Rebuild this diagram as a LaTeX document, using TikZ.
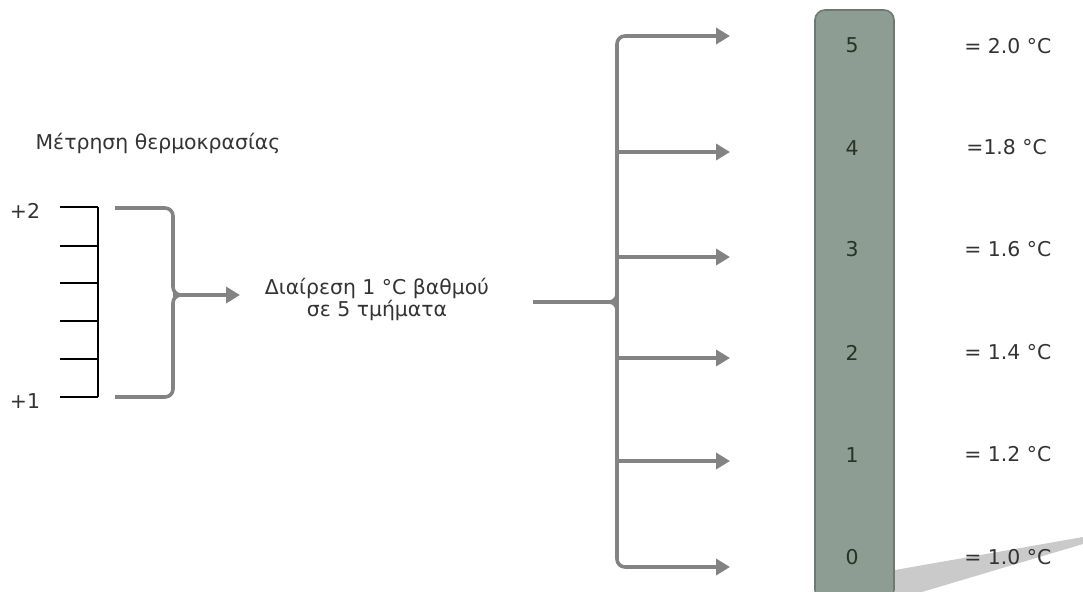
\documentclass[tikz,border=0pt]{standalone}
\usepackage{fontspec}
\setmainfont{DejaVu Sans}
\usetikzlibrary{arrows.meta}
\definecolor{linegray}{HTML}{838383}
\definecolor{barfill}{HTML}{8E9D93}
\definecolor{barline}{HTML}{6C7A71}
\definecolor{txt}{HTML}{333333}
\definecolor{numtxt}{HTML}{263228}
\definecolor{shadowgray}{HTML}{CACACA}
\begin{document}
\begin{tikzpicture}[x=0.5pt,y=-0.5pt,
  font=\fontsize{10.2}{11}\selectfont,
  lbl/.style={text=txt, inner sep=0pt},
  numlbl/.style={text=numtxt, inner sep=0pt},
  tickline/.style={draw=black, line width=0.8pt},
  conn/.style={draw=linegray, line width=1.8pt, rounded corners=4pt},
  thickconn/.style={draw=linegray, line width=2.4pt},
  tip/.style={-{Triangle[length=7pt,width=8pt]}},
  bothtips/.style={{Triangle[length=7pt,width=8pt]}-{Triangle[length=7pt,width=8pt]}},
  barbox/.style={draw=barline, fill=barfill, line width=0.8pt, rounded corners=5pt,
    minimum width=39.5pt, minimum height=295pt, inner sep=0pt}]
\useasboundingbox (0,0) rectangle (1083,591);

% thermometer scale
\node[lbl] (title) at (158,143) {Μέτρηση θερμοκρασίας};
\node[lbl] (plustwo) at (25,211) {+2};
\node[lbl] (plusone) at (25,401) {+1};
\foreach \k/\y in {0/207,1/246,2/283,3/321,4/359,5/397}{
  \coordinate (tl\k) at (60,\y);
  \coordinate (tr\k) at (98,\y);
  \draw[tickline] (tl\k) -- (tr\k);
}
\draw[tickline] (tr0) -- (tr5);

% left brace pointing to the division text
\coordinate (bt) at (115,208);
\coordinate (bb) at (115,397);
\coordinate (bm) at (173,295);
\coordinate (btip) at (240,295);
\draw[conn] (bt) -- (173,208) -- (bm) -- (185,295);
\draw[conn] (bb) -- (173,397) -- (bm) -- (185,295);
\draw[conn,tip] (bm) -- (btip);

\node[lbl, align=center] (div) at (377,299) {Διαίρεση 1 °C βαθμού\\σε 5 τμήματα};

% trunk that splits into six arrows
\coordinate (hs) at (533,302);
\coordinate (hj) at (617,302);
\draw[thickconn] (hs) -- (hj);
\draw[conn] (605,302) -- (hj) -- (617,290);
\draw[conn] (605,302) -- (hj) -- (617,314);

\foreach \k/\y in {5/36,4/152,3/257,2/358,1/461,0/567}{
  \coordinate (s\k) at (617,\y);
  \coordinate (e\k) at (730,\y);
}
\draw[conn,bothtips] (e5) -- (s5) -- (s0) -- (e0);
\foreach \k in {4,3,2,1}{
  \draw[conn,tip] (s\k) -- (e\k);
}

% shadow under the bar
\fill[shadowgray] (895,570) -- (1083,537) -- (1083,544) -- (895,600) -- cycle;

% the bar with its divisions
\node[barbox] (bar) at (854.5,305) {};
\foreach \k/\y in {5/45,4/148,3/249,2/353,1/455,0/557}{
  \node[numlbl] (n\k) at (852,\y) {\k};
}

% values of each division
\node[lbl, anchor=west] (v5) at (964,46) {= 2.0 °C};
\node[lbl, anchor=west] (v4) at (966,147) {=1.8 °C};
\node[lbl, anchor=west] (v3) at (964,249) {= 1.6 °C};
\node[lbl, anchor=west] (v2) at (964,352) {= 1.4 °C};
\node[lbl, anchor=west] (v1) at (964,454) {= 1.2 °C};
\node[lbl, anchor=west] (v0) at (964,557) {= 1.0 °C};
\end{tikzpicture}
\end{document}
